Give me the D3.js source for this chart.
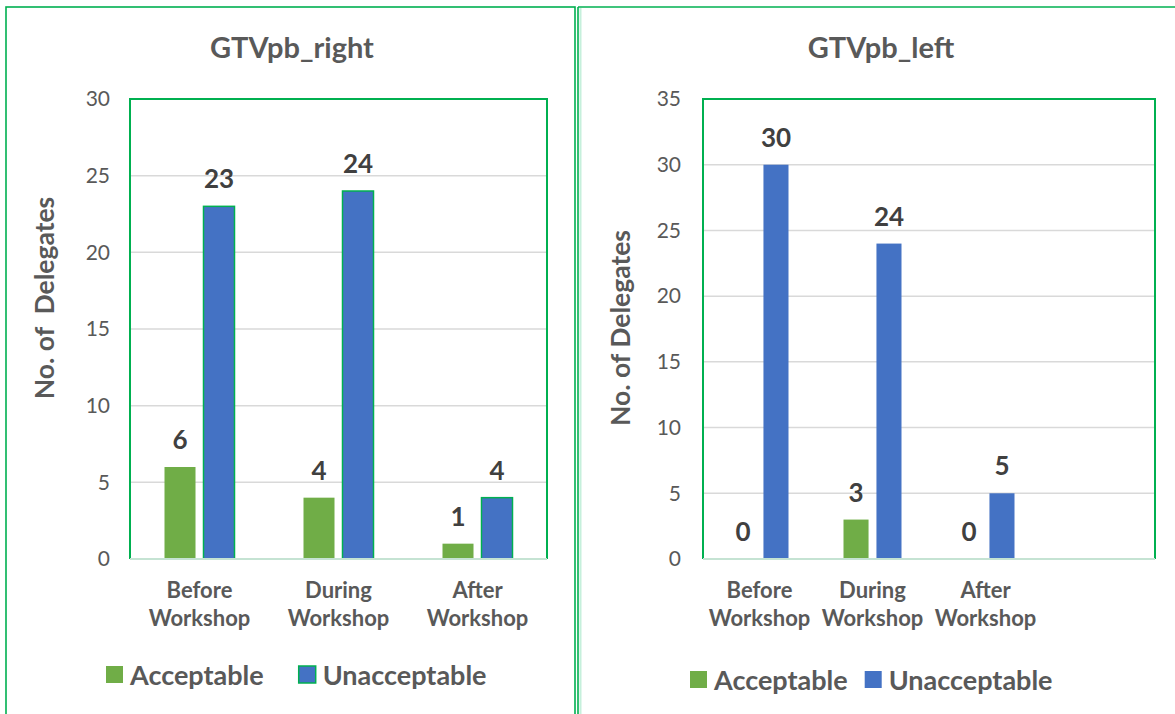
<!DOCTYPE html>
<html>
<head>
<meta charset="utf-8">
<script src="https://cdn.jsdelivr.net/npm/d3@7"></script>
<style>
  html, body { margin: 0; padding: 0; background: #fff; }
  svg { display: block; }
  text { font-family: Lato, "Open Sans", sans-serif; }
</style>
</head>
<body>
<svg id="chart" width="1175" height="714"></svg>
<script>
// Delegate counts per workshop stage
const seriesNames = ["Acceptable", "Unacceptable"];
const rightCategories = ["Before Workshop", "During Workshop", "After Workshop"];
const rightAcceptable = [6, 4, 1];
const rightUnacceptable = [23, 24, 4];
const rightTicks = [0, 5, 10, 15, 20, 25, 30];

const leftCategories = ["Before Workshop", "During Workshop", "After Workshop", ""];
const leftAcceptable = [0, 3, 0, null];
const leftUnacceptable = [30, 24, 5, null];
const leftTicks = [0, 5, 10, 15, 20, 25, 30, 35];

const colors = { Acceptable: "#70ad47", Unacceptable: "#4472c4" };
const frameGreen = "#00b050";
const textGrey = "#595959";

const svg = d3.select("#chart");

// Panel frames
svg.append("rect").attr("x", 6).attr("y", 7).attr("width", 569).attr("height", 720)
  .attr("fill", "none").attr("stroke", frameGreen).attr("stroke-width", 1.6);
svg.append("line").attr("x1", 578).attr("x2", 578).attr("y1", 7).attr("y2", 714)
  .attr("stroke", frameGreen).attr("stroke-width", 1.6);
svg.append("line").attr("x1", 580.5).attr("x2", 580.5).attr("y1", 8).attr("y2", 714)
  .attr("stroke", "#c6f0dc").attr("stroke-width", 2);
svg.append("line").attr("x1", 578).attr("x2", 1175).attr("y1", 7).attr("y2", 7)
  .attr("stroke", frameGreen).attr("stroke-width", 1.6);

function drawChart(cfg) {
  const g = svg.append("g");
  const { x0, x1, y0, y1 } = cfg.plot;

  const x = d3.scaleBand().domain(cfg.categories).range([x0, x1]).paddingInner(0).paddingOuter(0);
  const xs = d3.scaleBand().domain(seriesNames)
    .range([-cfg.groupWidth / 2, cfg.groupWidth / 2]).paddingInner(cfg.innerPad);
  const y = d3.scaleLinear().domain([0, d3.max(cfg.ticks)]).range([y1, y0]);

  // Gridlines
  g.append("g").selectAll("line").data(cfg.ticks.filter(t => t > 0)).join("line")
    .attr("x1", x0).attr("x2", x1)
    .attr("y1", d => y(d)).attr("y2", d => y(d))
    .attr("stroke", "#d9d9d9").attr("stroke-width", 1.5);

  // Y axis tick labels
  const yAxis = d3.axisLeft(y).tickValues(cfg.ticks).tickSize(0).tickPadding(cfg.tickPad);
  const ya = g.append("g").attr("transform", `translate(${x0},0)`).call(yAxis);
  ya.select(".domain").remove();
  ya.selectAll("text").attr("fill", textGrey).attr("font-size", 21)
    .attr("font-family", "Lato, sans-serif");

  // Bars
  const rows = cfg.categories.map((c, i) => ({
    cat: c,
    vals: [
      { key: "Acceptable", v: cfg.acceptable[i] },
      { key: "Unacceptable", v: cfg.unacceptable[i] }
    ].filter(d => d.v !== null)
  }));
  const grp = g.append("g").selectAll("g").data(rows).join("g")
    .attr("transform", d => `translate(${x(d.cat) + x.bandwidth() / 2},0)`);
  grp.selectAll("rect").data(d => d.vals).join("rect")
    .attr("x", d => xs(d.key)).attr("width", xs.bandwidth())
    .attr("y", d => y(d.v)).attr("height", d => y(0) - y(d.v))
    .attr("fill", d => colors[d.key])
    .attr("stroke", d => (cfg.outlineBlue && d.key === "Unacceptable") ? frameGreen : "none")
    .attr("stroke-width", 1.5);
  grp.selectAll("text").data(d => d.vals).join("text")
    .attr("x", d => xs(d.key) + xs.bandwidth() / 2)
    .attr("y", d => y(d.v) - 18)
    .attr("text-anchor", "middle")
    .attr("font-size", 26).attr("font-weight", 700).attr("fill", "#404040")
    .text(d => d.v);

  // Plot frame: green sides and top, pale baseline
  g.append("path")
    .attr("d", `M${x0},${y1}V${y0}H${x1}V${y1}`)
    .attr("fill", "none").attr("stroke", frameGreen).attr("stroke-width", 2);
  g.append("line").attr("x1", x0).attr("x2", x1).attr("y1", y1).attr("y2", y1)
    .attr("stroke", "#c5e3d3").attr("stroke-width", 2);

  // Category labels on two lines
  const cl = g.append("g").selectAll("text").data(cfg.categories).join("text")
    .attr("x", d => x(d) + x.bandwidth() / 2)
    .attr("y", y1 + 39)
    .attr("text-anchor", "middle")
    .attr("font-size", 22).attr("font-weight", 700).attr("fill", textGrey);
  cl.each(function (d) {
    const parts = d.split(" ");
    const t = d3.select(this);
    parts.forEach((p, i) => t.append("tspan")
      .attr("x", x(d) + x.bandwidth() / 2).attr("dy", i === 0 ? 0 : 28).text(p));
  });

  // Title
  g.append("text").attr("x", cfg.titleX).attr("y", 58)
    .attr("text-anchor", "middle").attr("font-size", 29).attr("font-weight", 700)
    .attr("fill", textGrey).text(cfg.title);

  // Y axis title
  g.append("text")
    .attr("transform", `translate(${cfg.yTitle.x},${cfg.yTitle.y}) rotate(-90)`)
    .attr("text-anchor", "middle").attr("font-size", 26.5).attr("font-weight", 700)
    .attr("fill", textGrey).attr("xml:space", "preserve").text(cfg.yTitleText);

  // Legend
  const lg = g.append("g").attr("transform", `translate(${cfg.legend.x},${cfg.legend.y})`);
  let cx = 0;
  seriesNames.forEach((s, i) => {
    lg.append("rect").attr("x", cx).attr("y", -9).attr("width", 17).attr("height", 17)
      .attr("fill", colors[s])
      .attr("stroke", (cfg.outlineBlue && s === "Unacceptable") ? frameGreen : "none")
      .attr("stroke-width", 1.5);
    const t = lg.append("text").attr("x", cx + 24).attr("y", 10)
      .attr("font-size", 27).attr("font-weight", 700).attr("fill", textGrey).text(s);
    cx += 24 + t.node().getComputedTextLength() + cfg.legend.gap;
  });
}

drawChart({
  title: "GTVpb_right",
  titleX: 292,
  yTitleText: "No. of  Delegates",
  yTitle: { x: 54, y: 298 },
  categories: rightCategories,
  acceptable: rightAcceptable,
  unacceptable: rightUnacceptable,
  ticks: rightTicks,
  plot: { x0: 130, x1: 547, y0: 99, y1: 559 },
  groupWidth: 70, innerPad: 0.205,
  tickPad: 20,
  outlineBlue: true,
  legend: { x: 106, y: 675, gap: 35 }
});

drawChart({
  title: "GTVpb_left",
  titleX: 881,
  yTitleText: "No. of Delegates",
  yTitle: { x: 630, y: 328 },
  categories: leftCategories,
  acceptable: leftAcceptable,
  unacceptable: leftUnacceptable,
  ticks: leftTicks,
  plot: { x0: 703, x1: 1155, y0: 99, y1: 559 },
  groupWidth: 58, innerPad: 0.24,
  tickPad: 22,
  outlineBlue: false,
  legend: { x: 690, y: 680, gap: 17 }
});
</script>
</body>
</html>
